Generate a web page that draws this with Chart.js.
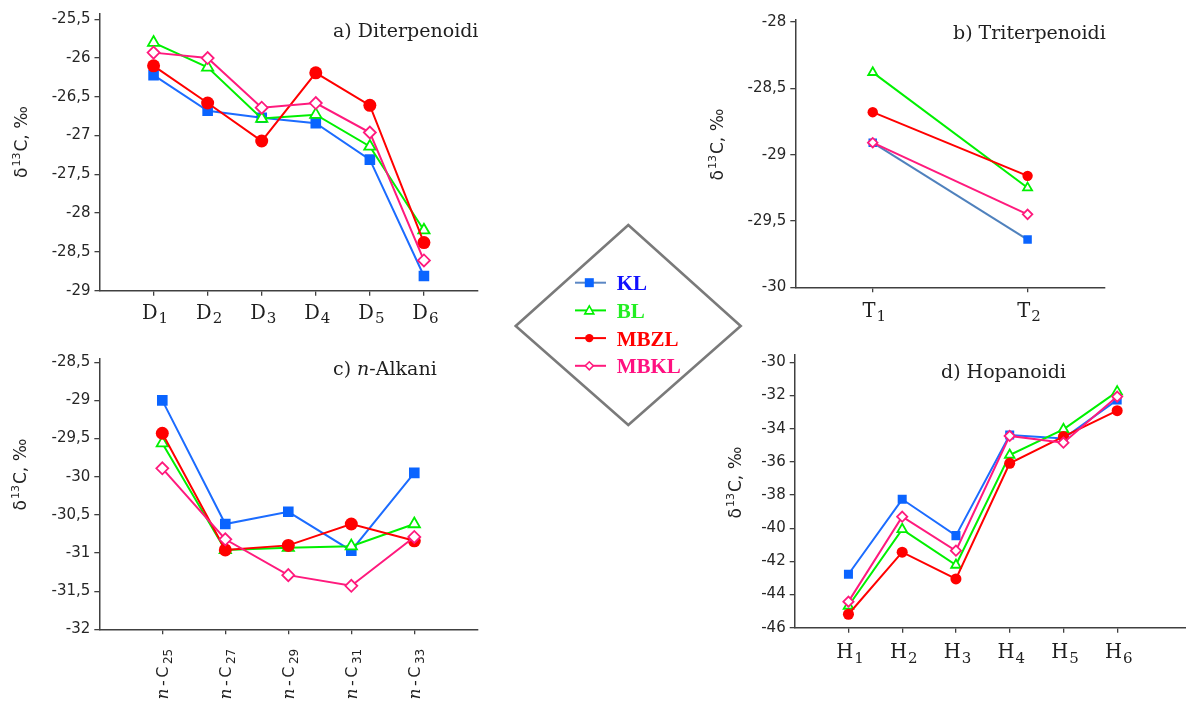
<!DOCTYPE html>
<html>
<head>
<meta charset="utf-8">
<script src="https://cdn.jsdelivr.net/npm/chart.js@4/dist/chart.umd.min.js"></script>
<style>
  html, body { margin: 0; padding: 0; background: #fff; overflow: hidden; width: 1186px; height: 706px; }
  .panel { position: absolute; }
  #legend { position: absolute; left: 0; top: 0; pointer-events: none; }
</style>
</head>
<body>
<canvas class="panel" id="chartA" width="560" height="330" style="left:0;top:0"></canvas>
<canvas class="panel" id="chartB" width="546" height="330" style="left:640px;top:0"></canvas>
<canvas class="panel" id="chartC" width="560" height="376" style="left:0;top:330px"></canvas>
<canvas class="panel" id="chartD" width="592" height="376" style="left:640px;top:330px"></canvas>
<svg id="legend" width="1186" height="706"></svg>
<script>
// series
var seriesNames = ["KL", "BL", "MBZL", "MBKL"];

// a) Diterpenoidi
var diterpCats = ["D1", "D2", "D3", "D4", "D5", "D6"];
var diterpKL = [-26.22, -26.68, -26.77, -26.84, -27.31, -28.81];
var diterpBL = [-25.8, -26.12, -26.78, -26.73, -27.14, -28.22];
var diterpMBZL = [-26.1, -26.58, -27.07, -26.19, -26.61, -28.38];
var diterpMBKL = [-25.93, -26.0, -26.64, -26.58, -26.96, -28.61];
var diterpTicks = [-29, -28.5, -28, -27.5, -27, -26.5, -26, -25.5];

// b) Triterpenoidi
var triterpCats = ["T1", "T2"];
var triterpKL = [-28.91, -29.64];
var triterpBL = [-28.38, -29.25];
var triterpMBZL = [-28.68, -29.16];
var triterpMBKL = [-28.91, -29.45];
var triterpTicks = [-30, -29.5, -29, -28.5, -28];

// c) n-Alkani
var alkCats = ["n-C25", "n-C27", "n-C29", "n-C31", "n-C33"];
var alkKL = [-29.0, -30.62, -30.46, -30.97, -29.95];
var alkBL = [-29.56, -30.96, -30.93, -30.91, -30.62];
var alkMBZL = [-29.43, -30.96, -30.9, -30.62, -30.84];
var alkMBKL = [-29.89, -30.82, -31.29, -31.43, -30.79];
var alkTicks = [-32, -31.5, -31, -30.5, -30, -29.5, -29, -28.5];

// d) Hopanoidi
var hopCats = ["H1", "H2", "H3", "H4", "H5", "H6"];
var hopKL = [-42.78, -38.26, -40.45, -34.38, -34.6, -32.27];
var hopBL = [-44.69, -40.07, -42.22, -35.59, -34.04, -31.77];
var hopMBZL = [-45.19, -41.45, -43.06, -36.09, -34.48, -32.92];
var hopMBKL = [-44.43, -39.31, -41.36, -34.44, -34.85, -32.07];
var hopTicks = [-46, -44, -42, -40, -38, -36, -34, -32, -30];

// styles
var lineColors = ["#1c6cff", "#00f000", "#ff0000", "#ff1a7d"];
var markerFill = ["#0a64ff", "#ffffff", "#ff0000", "#ffffff"];
var markerEdge = ["#0a64ff", "#00f000", "#ff0000", "#ff1a7d"];
var markerShape = ["rect", "triangle", "circle", "rectRot"];
var markerSize = [7.5, 6.5, 6.5, 6];
var markerEdgeWidth = [0, 1.8, 0, 1.8];
var legendTextColors = ["#1010ff", "#22ee22", "#ff0000", "#ff1080"];
var legendLineColors = ["#5b87c4", "#00f000", "#ff0000", "#ff1a7d"];
var axisColor = "#404040";
var textColor = "#1f1f1f";

var panelText = {
  id: "panelText",
  afterDraw: function (chart, args, o) {
    var ctx = chart.ctx;
    var xs = chart.scales.x;
    var bottom = chart.chartArea.bottom;
    ctx.save();
    ctx.fillStyle = textColor;
    ctx.textAlign = "left";
    ctx.textBaseline = "alphabetic";

    // panel title
    var tx = o.titleX;
    o.title.forEach(function (run) {
      ctx.font = (run[1] ? "italic " : "") + "19px 'DejaVu Serif'";
      ctx.fillText(run[0], tx, o.titleY);
      tx += ctx.measureText(run[0]).width;
    });

    // y axis title: δ13C, ‰
    var runs = [["δ", "17px 'DejaVu Sans'", 0], ["13", "11px 'DejaVu Sans'", -7], ["C, ‰", "17px 'DejaVu Sans'", 0]];
    var w = 0;
    runs.forEach(function (r) { ctx.font = r[1]; w += ctx.measureText(r[0]).width + 1; });
    ctx.save();
    ctx.translate(o.yTitleX, o.yTitleY);
    ctx.rotate(-Math.PI / 2);
    var px = -w / 2;
    runs.forEach(function (r) {
      ctx.font = r[1];
      ctx.fillText(r[0], px, 6 + r[2]);
      px += ctx.measureText(r[0]).width + 1;
    });
    ctx.restore();

    // category labels with subscripts
    chart.data.labels.forEach(function (lab, i) {
      if (!lab) return;
      var x = xs.getPixelForTick(i);
      var m = lab.match(/^(n-)?([A-Za-z]+)(\d+)$/);
      var parts;
      if (o.rotated) {
        parts = [["n", "italic 17px 'DejaVu Serif'", 0], ["-", "16px 'DejaVu Sans'", 0],
                 [m[2], "16px 'DejaVu Sans'", 0], [m[3], "12px 'DejaVu Sans'", 4]];
        var lw = 0;
        parts.forEach(function (p) { ctx.font = p[1]; lw += ctx.measureText(p[0]).width + 2.5; });
        ctx.save();
        ctx.translate(x, bottom + 17);
        ctx.rotate(-Math.PI / 2);
        var lx = -lw;
        parts.forEach(function (p) {
          ctx.font = p[1];
          ctx.fillText(p[0], lx, 6 + p[2]);
          lx += ctx.measureText(p[0]).width + 2.5;
        });
        ctx.restore();
      } else {
        parts = [[m[2], "19.5px 'DejaVu Serif'", 0], [m[3], "15px 'DejaVu Serif'", 4.4]];
        var cw = 0;
        parts.forEach(function (p) { ctx.font = p[1]; cw += ctx.measureText(p[0]).width + 1; });
        var cx = x - cw / 2 + 2;
        parts.forEach(function (p) {
          ctx.font = p[1];
          ctx.fillText(p[0], cx, bottom + o.labelDy + p[2]);
          cx += ctx.measureText(p[0]).width + 1;
        });
      }
    });
    ctx.restore();
  }
};

function makeSeries(values, pad, p) {
  return values.map(function (vals, i) {
    var data = pad.before.map(function () { return null; }).concat(vals, pad.after.map(function () { return null; }));
    return {
      label: seriesNames[i],
      data: data,
      borderColor: (p.lineOverride && p.lineOverride[i]) || lineColors[i],
      borderWidth: 2,
      pointStyle: markerShape[i],
      pointRadius: markerSize[i] * (p.markerScale || 1),
      pointBackgroundColor: markerFill[i],
      pointBorderColor: markerEdge[i],
      pointBorderWidth: markerEdgeWidth[i],
      tension: 0,
      order: 4 - i
    };
  });
}

function makeChart(id, cats, values, ticks, p) {
  var pad = { before: p.padBefore || [], after: p.padAfter || [] };
  var labels = pad.before.concat(cats, pad.after);
  return new Chart(document.getElementById(id), {
    type: "line",
    data: { labels: labels, datasets: makeSeries(values, pad, p) },
    options: {
      responsive: false,
      animation: false,
      devicePixelRatio: 1,
      layout: { padding: { left: 0, top: p.top, right: p.right, bottom: 0 } },
      scales: {
        x: {
          offset: !!p.offset,
          afterFit: function (s) { s.height = p.xh; },
          ticks: { autoSkip: false, maxRotation: 0, callback: function () { return ""; } },
          grid: {
            drawOnChartArea: false, offset: false, tickLength: 5, lineWidth: 1.3,
            tickColor: function (c) { return labels[c.index] ? axisColor : "rgba(0,0,0,0)"; }
          },
          border: { color: axisColor, width: 1.5 }
        },
        y: {
          min: p.yMin, max: p.yMax,
          afterFit: function (s) { s.width = p.yw; },
          afterBuildTicks: function (s) { s.ticks = ticks.map(function (v) { return { value: v }; }); },
          ticks: {
            font: { family: "DejaVu Sans", size: 15 }, color: "#262626", padding: 4,
            callback: function (v) { return String(v).replace(".", ","); }
          },
          grid: { drawOnChartArea: false, tickLength: 5, color: axisColor, lineWidth: 1.3 },
          border: { color: axisColor, width: 1.5 }
        }
      },
      plugins: {
        legend: { display: false },
        tooltip: { enabled: false },
        panelText: p.text
      }
    },
    plugins: [panelText]
  });
}

makeChart("chartA", diterpCats, [diterpKL, diterpBL, diterpMBZL, diterpMBKL], diterpTicks, {
  padBefore: [""], padAfter: [""], top: 14, right: 82, yw: 99.5, xh: 39.3,
  yMin: -29, yMax: -25.432,
  text: { title: [["a) Diterpenoidi", false]], titleX: 333, titleY: 37, yTitleX: 20.5, yTitleY: 141.5, labelDy: 28 }
});

makeChart("chartB", triterpCats, [triterpKL, triterpBL, triterpMBZL, triterpMBKL], triterpTicks, {
  offset: true, top: 20, right: 81, yw: 155.3, xh: 42.7,
  yMin: -30, yMax: -27.985, lineOverride: { 0: "#4f81bd" }, markerScale: 0.8,
  text: { title: [["b) Triterpenoidi", false]], titleX: 313, titleY: 39, yTitleX: 76.7, yTitleY: 144, labelDy: 29.5 }
});

makeChart("chartC", alkCats, [alkKL, alkBL, alkMBZL, alkMBKL], alkTicks, {
  padBefore: [""], padAfter: [""], top: 28.3, right: 82.7, yw: 99.3, xh: 76.7,
  yMin: -32, yMax: -28.448,
  text: { title: [["c) ", false], ["n", true], ["-Alkani", false]], titleX: 333, titleY: 45, yTitleX: 20, yTitleY: 144, rotated: true }
});

makeChart("chartD", hopCats, [hopKL, hopBL, hopMBZL, hopMBKL], hopTicks, {
  padBefore: [""], padAfter: ["", ""], top: 24.3, right: 0, yw: 154.7, xh: 78.3,
  yMin: -46, yMax: -29.52, markerScale: 0.85,
  text: { title: [["d) Hopanoidi", false]], titleX: 301, titleY: 48.3, yTitleX: 95, yTitleY: 152, labelDy: 30.5 }
});

// diamond legend
var svgNS = "http://www.w3.org/2000/svg";
var svg = document.getElementById("legend");
function el(tag, attrs) {
  var e = document.createElementNS(svgNS, tag);
  for (var k in attrs) e.setAttribute(k, attrs[k]);
  svg.appendChild(e);
  return e;
}
el("polygon", { points: "515.7,326 628.3,225 740.7,326 628.3,425", fill: "none", stroke: "#7a7a7a", "stroke-width": 2.6 });
seriesNames.forEach(function (name, i) {
  var cy = 282.7 + i * 27.7;
  var mx = 589.3;
  el("line", { x1: 575, y1: cy, x2: 606, y2: cy, stroke: legendLineColors[i], "stroke-width": 2 });
  if (markerShape[i] === "rect") {
    el("rect", { x: mx - 4.5, y: cy - 4.5, width: 9, height: 9, fill: markerFill[i] });
  } else if (markerShape[i] === "triangle") {
    el("polygon", { points: (mx - 4.5) + "," + (cy + 3.5) + " " + mx + "," + (cy - 4.5) + " " + (mx + 4.5) + "," + (cy + 3.5),
      fill: "#fff", stroke: markerEdge[i], "stroke-width": 1.6 });
  } else if (markerShape[i] === "circle") {
    el("circle", { cx: mx, cy: cy, r: 4.2, fill: markerFill[i] });
  } else {
    el("polygon", { points: (mx - 4) + "," + cy + " " + mx + "," + (cy - 4) + " " + (mx + 4) + "," + cy + " " + mx + "," + (cy + 4),
      fill: "#fff", stroke: markerEdge[i], "stroke-width": 1.6 });
  }
  var t = el("text", { x: 616.7, y: cy + 7.5, fill: legendTextColors[i],
    "font-family": "Liberation Serif", "font-weight": "bold", "font-size": 21 });
  t.textContent = name;
});
</script>
</body>
</html>
